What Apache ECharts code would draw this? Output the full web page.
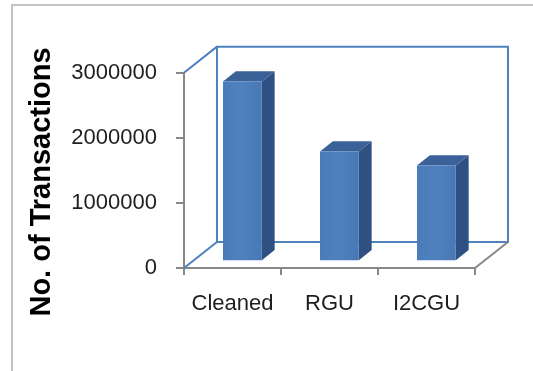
<!DOCTYPE html>
<html>
<head>
<meta charset="utf-8">
<script src="https://cdn.jsdelivr.net/npm/echarts@6/dist/echarts.min.js"></script>
<style>
  html, body { margin: 0; padding: 0; background: #ffffff; }
  #chart { width: 533px; height: 371px; }
</style>
</head>
<body>
<div id="chart"></div>
<script>
// Transaction counts per dataset variant
const categories = ['Cleaned', 'RGU', 'I2CGU'];
const transactions = [2745000, 1670000, 1455000];
const yTicks = [0, 1000000, 2000000, 3000000];
const yTitle = 'No. of Transactions';

const yMin = yTicks[0];
const yMax = yTicks[yTicks.length - 1];
const yStep = yTicks[1] - yTicks[0];

// Pseudo-3D geometry, expressed relative to the category band width
const DEPTH = 0.34;      // full wall depth (horizontal) as share of band width
const SLOPE = 0.79;      // vertical rise per horizontal depth pixel
const BAR_FRONT = 0.30;  // depth position of a column's front face
const BAR_BACK = 0.69;   // depth position of a column's back face
const BAR_W = 0.40;      // column width as share of band width

const FONT = '"Liberation Sans", Arial, sans-serif';
const AXIS_GRAY = '#888888';
const WALL_BLUE = '#4f81bd';

function depthShift(bw, f) {
  const dx = bw * DEPTH * f;
  return [dx, -dx * SLOPE];
}

// Back wall, side wall and floor outlines
function renderWalls(params, api) {
  const bw = api.size([1, 0])[0];
  const first = api.coord([0, yMin]);
  const last = api.coord([categories.length - 1, yMin]);
  const top = api.coord([0, yMax])[1];
  const bottom = first[1];
  const left = first[0] - bw / 2;
  const right = last[0] + bw / 2;
  const [dx, dy] = depthShift(bw, 1);
  const blue = { stroke: WALL_BLUE, lineWidth: 2, fill: null };
  const gray = { stroke: AXIS_GRAY, lineWidth: 2, fill: null };
  return {
    type: 'group',
    children: [
      { type: 'polyline', shape: { points: [
          [left + dx, bottom + dy], [left + dx, top + dy],
          [right + dx, top + dy], [right + dx, bottom + dy],
          [left + dx, bottom + dy]
        ] }, style: blue },
      { type: 'line', shape: { x1: left, y1: top, x2: left + dx, y2: top + dy }, style: blue },
      { type: 'line', shape: { x1: left, y1: bottom, x2: left + dx, y2: bottom + dy }, style: blue },
      { type: 'line', shape: { x1: right, y1: bottom, x2: right + dx, y2: bottom + dy }, style: gray }
    ]
  };
}

// One 3D column: front face, top face and right side face
function renderColumn(params, api) {
  const i = api.value(0);
  const v = api.value(1);
  const bw = api.size([1, 0])[0];
  const w = bw * BAR_W;
  const base = api.coord([i, yMin]);
  const tip = api.coord([i, v]);
  const [fx, fy] = depthShift(bw, BAR_FRONT);
  const [bx, by] = depthShift(bw, BAR_BACK);
  const ddx = bx - fx, ddy = by - fy;
  const xl = base[0] - w / 2 + fx;
  const xr = base[0] + w / 2 + fx;
  const yb = base[1] + fy;
  const yt = tip[1] + fy;
  return {
    type: 'group',
    children: [
      { type: 'polygon', shape: { points: [[xr, yt], [xr + ddx, yt + ddy], [xr + ddx, yb + ddy], [xr, yb]] },
        style: { fill: '#2f5082' } },
      { type: 'polygon', shape: { points: [[xl, yt], [xl + ddx, yt + ddy], [xr + ddx, yt + ddy], [xr, yt]] },
        style: { fill: '#3a6198' } },
      { type: 'rect', shape: { x: xl, y: yt, width: w, height: yb - yt },
        style: { fill: new echarts.graphic.LinearGradient(0, 0, 1, 0, [
          { offset: 0, color: '#4a7cba' },
          { offset: 0.5, color: '#4f81bf' },
          { offset: 1, color: '#4878b4' }
        ]) } }
    ]
  };
}

const chart = echarts.init(document.getElementById('chart'), null, { renderer: 'canvas' });

chart.setOption({
  animation: false,
  backgroundColor: '#ffffff',
  textStyle: { fontFamily: FONT },
  graphic: [
    {
      type: 'rect',
      z: -10,
      shape: { x: 12, y: 5, width: 600, height: 500 },
      style: { fill: null, stroke: '#c3c3c3', lineWidth: 2 }
    },
    {
      // vertical axis title
      type: 'text',
      x: 42,
      y: 182,
      rotation: Math.PI / 2,
      style: {
        text: yTitle,
        fill: '#000000',
        font: 'bold 29px ' + FONT,
        align: 'center',
        verticalAlign: 'middle'
      }
    }
  ],
  grid: { left: 184, right: 58, top: 72.7, bottom: 103, containLabel: false },
  xAxis: {
    type: 'category',
    data: categories,
    boundaryGap: true,
    axisLine: { lineStyle: { color: AXIS_GRAY, width: 2 } },
    axisTick: { show: true, length: 7, lineStyle: { color: AXIS_GRAY, width: 2 } },
    axisLabel: { color: '#1e1e1e', fontSize: 22, margin: 25, interval: 0, fontFamily: FONT },
    splitLine: { show: false }
  },
  yAxis: {
    type: 'value',
    min: yMin,
    max: yMax,
    interval: yStep,
    axisLine: { show: true, lineStyle: { color: AXIS_GRAY, width: 2 } },
    axisTick: { show: true, length: 8, lineStyle: { color: AXIS_GRAY, width: 2 } },
    axisLabel: {
      color: '#1e1e1e', fontSize: 22, margin: 27, fontFamily: FONT,
      formatter: (v) => String(v)
    },
    splitLine: { show: false }
  },
  series: [
    {
      type: 'custom',
      name: 'walls',
      renderItem: renderWalls,
      data: [[0, yMin]],
      z: 1,
      silent: true
    },
    {
      type: 'custom',
      name: yTitle,
      renderItem: renderColumn,
      data: categories.map((c, i) => [i, transactions[i]]),
      encode: { x: 0, y: 1 },
      z: 2
    }
  ]
});
</script>
</body>
</html>
